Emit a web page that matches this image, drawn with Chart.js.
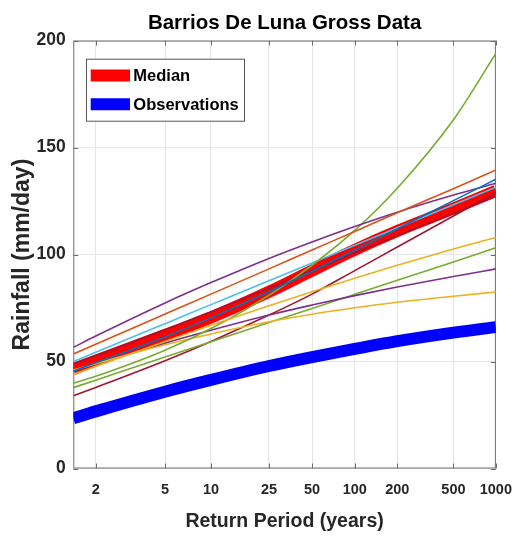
<!DOCTYPE html>
<html>
<head>
<meta charset="utf-8">
<title>Barrios De Luna Gross Data</title>
<script src="https://cdn.jsdelivr.net/npm/chart.js@4.4.1/dist/chart.umd.min.js"></script>
<style>
  html, body { margin: 0; padding: 0; background: #fff; }
  #wrap { width: 525px; height: 539px; }
</style>
</head>
<body>
<div id="wrap"><canvas id="myChart" width="525" height="539"></canvas></div>
<script>
// return periods (years) where the curves were read; 1.582 is the left edge of the plot
var returnPeriods = [1.582, 2, 5, 10, 25, 50, 100, 200, 500, 1000];
var tickPeriods = [2, 5, 10, 25, 50, 100, 200, 500, 1000];
var rainTicks = [0, 50, 100, 150, 200];

var median       = [46.5, 50.4, 62.4, 70.6, 82.6, 92.5, 102.2, 111.0, 121.5, 129.8];
var observations = [23.5, 26.7, 35.9, 41.4, 47.9, 52.1, 55.9, 59.5, 63.5, 66.1];

// individual model curves (mm/day)
var modelBlue      = [45.5, 49.4, 61.5, 70.4, 82.6, 92.2, 102.0, 112.0, 125.2, 135.2];
var modelOrange    = [53.5, 58.1, 72.2, 81.5, 93.3, 102.1, 110.8, 119.5, 130.8, 139.5];
var modelYellow1   = [44.0, 47.8, 59.4, 66.9, 76.1, 82.6, 88.9, 95.0, 102.6, 108.0];
var modelPurple1   = [56.6, 61.9, 77.4, 86.9, 98.2, 105.9, 113.1, 119.8, 127.8, 133.3];
var modelGreen1    = [39.8, 43.1, 55.3, 65.4, 81.0, 95.0, 111.3, 131.0, 163.0, 194.0];
var modelLightBlue = [50.0, 54.3, 67.7, 76.6, 87.8, 96.0, 104.3, 112.5, 123.3, 131.5];
var modelDarkRed1  = [48.8, 52.7, 64.8, 73.3, 84.3, 92.5, 100.7, 108.8, 119.2, 127.2];
var modelYellow2   = [46.0, 49.0, 57.8, 62.9, 68.6, 72.1, 75.1, 77.7, 80.5, 82.5];
var modelPurple2   = [45.5, 48.8, 58.6, 64.6, 71.7, 76.4, 80.8, 84.8, 89.7, 93.3];
var modelGreen2    = [37.8, 41.3, 52.1, 59.2, 68.2, 74.8, 81.4, 88.0, 96.5, 103.2];
var modelDarkRed2  = [34.0, 37.9, 50.4, 59.4, 71.7, 81.5, 92.5, 103.5, 118.0, 129.0];

var FONT = '"Liberation Sans", Arial, sans-serif';

// Gumbel reduced variate, used as the x position of a return period
function gumbel(T) {
    return -Math.log(-Math.log(1 - 1 / T));
}

function points(values) {
    return values.map(function (v, i) {
        return { x: gumbel(returnPeriods[i]), y: v };
    });
}

function thin(values, color) {
    return {
        data: points(values),
        borderColor: color,
        borderWidth: 1.6,
        pointRadius: 0,
        cubicInterpolationMode: 'monotone',
        order: 0
    };
}

var data = {
    datasets: [
        thin(modelBlue, '#0072BD'),
        thin(modelOrange, '#D95319'),
        thin(modelYellow1, '#EDB120'),
        thin(modelPurple1, '#7E2F8E'),
        thin(modelGreen1, '#77AC30'),
        thin(modelLightBlue, '#4DBEEE'),
        thin(modelDarkRed1, '#A2142F'),
        thin(modelYellow2, '#EDB120'),
        thin(modelPurple2, '#7E2F8E'),
        thin(modelGreen2, '#77AC30'),
        thin(modelDarkRed2, '#A2142F'),
        {
            label: 'Median',
            data: points(median),
            borderColor: '#FF0000',
            borderWidth: 12,
            pointRadius: 0,
            cubicInterpolationMode: 'monotone',
            order: 2
        },
        {
            label: 'Observations',
            data: points(observations),
            borderColor: '#0000FF',
            borderWidth: 12,
            pointRadius: 0,
            cubicInterpolationMode: 'monotone',
            order: 1
        }
    ]
};

// box round the plot with short inward tick marks, like the MATLAB axes
var framePlugin = {
    id: 'frame',
    beforeDatasetsDraw: function (chart) {
        var ctx = chart.ctx, a = chart.chartArea;
        var xs = chart.scales.x, ys = chart.scales.y;
        ctx.save();
        ctx.strokeStyle = '#6e6e6e';
        ctx.lineWidth = 1;
        ctx.strokeRect(a.left + 0.5, a.top + 0.5, a.right - a.left - 1, a.bottom - a.top - 1);
        ctx.beginPath();
        tickPeriods.forEach(function (T) {
            var px = Math.round(xs.getPixelForValue(gumbel(T))) + 0.5;
            ctx.moveTo(px, a.top); ctx.lineTo(px, a.top + 5);
            ctx.moveTo(px, a.bottom); ctx.lineTo(px, a.bottom - 5);
        });
        rainTicks.forEach(function (v) {
            var py = Math.round(ys.getPixelForValue(v)) + 0.5;
            ctx.moveTo(a.left, py); ctx.lineTo(a.left + 5, py);
            ctx.moveTo(a.right, py); ctx.lineTo(a.right - 5, py);
        });
        ctx.stroke();
        ctx.restore();
    }
};

// legend box inside the plot, top left
var boxLegendPlugin = {
    id: 'boxLegend',
    afterDraw: function (chart) {
        var ctx = chart.ctx;
        var items = chart.data.datasets.filter(function (d) { return d.label; });
        var x = 86, y = 58.7, w = 158, h = 62;
        ctx.save();
        ctx.fillStyle = '#ffffff';
        ctx.fillRect(x, y, w, h);
        ctx.strokeStyle = '#555555';
        ctx.lineWidth = 1;
        ctx.strokeRect(x + 0.5, y + 0.5, w, h);
        ctx.font = 'bold 16.5px ' + FONT;
        ctx.textBaseline = 'middle';
        ctx.fillStyle = '#000000';
        items.forEach(function (d, i) {
            var cy = 75.5 + i * 28.7;
            ctx.strokeStyle = d.borderColor;
            ctx.lineWidth = 12;
            ctx.beginPath();
            ctx.moveTo(90.7, cy);
            ctx.lineTo(130, cy);
            ctx.stroke();
            ctx.fillText(d.label, 133.3, cy + 1);
        });
        ctx.restore();
    }
};

var ctx = document.getElementById('myChart');
var myChart = new Chart(ctx, {
    type: 'line',
    data: data,
    plugins: [framePlugin, boxLegendPlugin],
    options: {
        responsive: false,
        animation: false,
        layout: { padding: { left: 0, right: 22.7, top: 0, bottom: 0 } },
        plugins: {
            legend: { display: false },
            tooltip: { enabled: false },
            title: {
                display: true,
                fullSize: false,
                text: 'Barrios De Luna Gross Data',
                color: '#000000',
                font: { family: FONT, size: 20.5, weight: 'bold' },
                padding: { top: 11, bottom: 5 }
            }
        },
        scales: {
            x: {
                type: 'linear',
                min: 0,
                max: gumbel(1000),
                afterBuildTicks: function (scale) {
                    scale.ticks = tickPeriods.map(function (T) { return { value: gumbel(T) }; });
                },
                afterFit: function (scale) { scale.height = 70.5; },
                grid: { color: '#e6e6e6', drawTicks: false },
                border: { display: false },
                ticks: {
                    autoSkip: false,
                    maxRotation: 0,
                    padding: 13,
                    color: '#262626',
                    font: { family: FONT, size: 14.5, weight: 'bold' },
                    callback: function (value, index) { return String(tickPeriods[index]); }
                },
                title: {
                    display: true,
                    text: 'Return Period (years)',
                    color: '#262626',
                    font: { family: FONT, size: 19.5, weight: 'bold' },
                    padding: { top: 0, bottom: 6 }
                }
            },
            y: {
                min: 0,
                max: 200,
                afterBuildTicks: function (scale) {
                    scale.ticks = rainTicks.map(function (v) { return { value: v }; });
                },
                afterFit: function (scale) { scale.width = 73.3; },
                grid: { color: '#e6e6e6', drawTicks: false },
                border: { display: false },
                ticks: {
                    padding: 7.5,
                    color: '#262626',
                    font: { family: FONT, size: 17.5, weight: 'bold' }
                },
                title: {
                    display: true,
                    text: 'Rainfall (mm/day)',
                    color: '#262626',
                    font: { family: FONT, size: 23, weight: 'bold' },
                    padding: { top: 9, bottom: 0 }
                }
            }
        }
    }
});
</script>
</body>
</html>
